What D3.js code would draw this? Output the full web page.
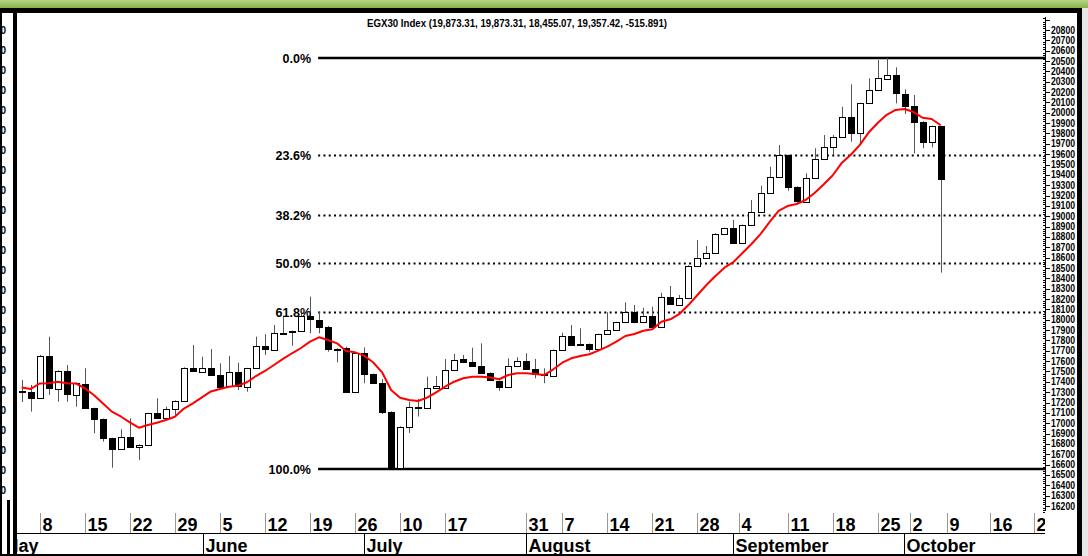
<!DOCTYPE html>
<html><head><meta charset="utf-8">
<script src="https://cdn.jsdelivr.net/npm/d3@7/dist/d3.min.js"></script>
<style>body{margin:0;background:#fff;overflow:hidden}svg{display:block}</style>
</head><body>
<svg id="c" width="1088" height="556"></svg>
<script>
// ---- data ----
const opens  = [17312,17305,17241,17653,17331,17505,17273,17379,17144,17038,16855,16751,16870,16768,16790,17096,17048,17138,17215,17537,17498,17537,17466,17360,17492,17353,17531,17749,17708,17875,17879,17891,18036,17998,17933,17722,17730,17299,17676,17473,17386,17112,16565,16967,17160,17150,17340,17345,17514,17616,17589,17553,17488,17408,17347,17556,17601,17521,17476,17456,17703,17843,17766,17766,17714,17860,17901,17975,18072,17975,18036,17927,18223,18142,18213,18522,18594,18642,18826,18884,18739,18915,19044,19228,19382,19592,19285,19141,19367,19550,19672,19763,19962,19801,20091,20220,20326,20365,20181,20065,19914,19714,19873.31];
const highs  = [17418,17370,17660,17836,17510,17563,17395,17531,17150,17045,16860,16941,17048,16795,17100,17241,17160,17220,17540,17756,17643,17717,17579,17650,17585,17535,17836,17859,17949,18039,17895,18062,18223,18078,17940,17725,17740,17685,17732,17480,17427,17115,16970,17208,17234,17450,17457,17620,17669,17659,17730,17772,17492,17412,17627,17637,17676,17621,17531,17712,17875,17949,17917,17770,17866,18072,17980,18169,18142,18116,18126,18261,18326,18239,18527,18771,18713,18836,18890,18964,18920,19157,19295,19479,19688,19596,19290,19415,19657,19785,19785,20058,20275,20096,20333,20510,20529,20439,20227,20172,19918,19876,19873.31];
const lows   = [17205,17112,17235,17273,17208,17208,17160,17140,16903,16822,16570,16745,16765,16645,16785,17050,17045,17080,17212,17500,17495,17460,17350,17355,17321,17305,17528,17659,17705,17858,17749,17888,17869,17869,17691,17589,17295,17295,17386,17385,17089,16558,16558,16906,17065,17145,17338,17340,17510,17590,17550,17485,17412,17314,17343,17550,17522,17434,17386,17450,17700,17750,17750,17691,17710,17855,17897,17970,17966,17970,17928,17922,18145,18138,18210,18518,18590,18638,18820,18740,18735,18910,19040,19224,19378,19247,19125,19137,19363,19546,19592,19760,19720,19688,20087,20215,20320,20091,19988,19608,19657,19666,18455.07];
const closes = [17310,17247,17653,17338,17505,17280,17392,17144,17041,16855,16751,16870,16768,16793,17096,17054,17138,17215,17537,17505,17537,17466,17353,17492,17360,17531,17749,17717,17869,17862,17891,18039,18007,17933,17717,17712,17299,17676,17473,17389,17112,16565,16967,17160,17150,17345,17358,17514,17611,17595,17556,17488,17418,17353,17556,17601,17527,17476,17466,17708,17846,17756,17756,17714,17862,17901,17975,18072,17981,18039,17933,18223,18149,18213,18522,18594,18642,18826,18884,18744,18915,19044,19228,19382,19592,19285,19150,19367,19550,19672,19763,19962,19807,20091,20220,20333,20365,20188,20068,19914,19720,19873.31,19357.42];
const movingAvg = [17345,17331,17384,17386,17401,17386,17384,17338,17273,17193,17112,17065,17009,16957,16983,17005,17031,17063,17142,17191,17249,17307,17331,17353,17363,17396,17456,17505,17563,17621,17676,17727,17788,17830,17804,17772,17698,17685,17653,17589,17492,17321,17247,17225,17215,17247,17299,17353,17401,17434,17450,17450,17442,17425,17466,17483,17483,17476,17466,17521,17585,17627,17650,17666,17701,17740,17788,17843,17862,17894,17908,17981,18004,18056,18142,18239,18336,18423,18503,18558,18645,18732,18828,18944,19051,19099,19118,19157,19225,19307,19394,19514,19592,19688,19809,19901,19980,20027,20036,20007,19952,19940,19880];
const weekTickPos    = [3,8,13,18,23,28,33,38,43,48,57,61,66,71,76,80.65,86,91,96,99.6,103.7,108.5,113.4];
const weekTickLabels = ["8","15","22","29","5","12","19","26","10","17","31","7","14","21","28","4","11","18","25","2","9","16","23"];
const monthSepPos    = [-1.25,21.07,39.0,57.0,80.0,98.9];
const monthLabels    = ["May","June","July","August","September","October"];
const priceTicks     = d3.range(16200, 20801, 100);
const fibHigh = 20529, fibLow = 16558;
const fibLevels = [0, 23.6, 38.2, 50.0, 61.8, 100.0];
const fibLabels = ["0.0%","23.6%","38.2%","50.0%","61.8%","100.0%"];
const titleText = "EGX30 Index (19,873.31, 19,873.31, 18,455.07, 19,357.42, -515.891)";

// ---- drawing ----
const W = 1088, H = 556;
const svg = d3.select("#c");
const plotL = 17, plotR = 1045, plotT = 13, plotB = 511;
const x = d3.scaleLinear().domain([1, 103]).range([21.7, 940.7]);
const y = d3.scaleLinear().domain([16200, 20800]).range([506, 30]);
const narrow = "'Liberation Sans Narrow','Arial Narrow','Liberation Sans',Arial,sans-serif";
const sans = "'Liberation Sans',Arial,sans-serif";

const defs = svg.append("defs");
defs.append("clipPath").attr("id","plot").append("rect")
  .attr("x",plotL).attr("y",plotT).attr("width",plotR-plotL).attr("height",plotB-plotT);
defs.append("clipPath").attr("id","dates").append("rect")
  .attr("x",plotL).attr("y",plotB).attr("width",plotR-plotL).attr("height",H-plotB);
const gr = defs.append("linearGradient").attr("id","gb").attr("x1",0).attr("x2",0).attr("y1",0).attr("y2",1);
gr.append("stop").attr("offset","0%").attr("stop-color","#b6d684");
gr.append("stop").attr("offset","100%").attr("stop-color","#86b347");

svg.append("rect").attr("width",W).attr("height",H).attr("fill","#fff");

// title
svg.append("text").attr("x",517).attr("y",27).attr("text-anchor","middle")
  .attr("font-family",narrow).attr("font-weight","bold").attr("font-size",11)
  .attr("textLength",300).attr("lengthAdjust","spacingAndGlyphs").text(titleText);

const plot = svg.append("g").attr("clip-path","url(#plot)");

// fibonacci levels
const fibVal = p => fibHigh - (fibHigh - fibLow) * p / 100;
const fibStart = x(33.9);
fibLevels.forEach((p, k) => {
  const yy = Math.round(y(fibVal(p)));
  const solid = (p === 0 || p === 100);
  plot.append("line").attr("x1",fibStart).attr("x2",plotR).attr("y1",solid?yy:yy+0.5).attr("y2",solid?yy:yy+0.5)
    .attr("stroke","#000").attr("stroke-width",solid?2.6:2)
    .attr("stroke-dasharray",solid?null:"2,3.3");
  svg.append("text").attr("x",311).attr("y",yy+4.5).attr("text-anchor","end")
    .attr("font-family",sans).attr("font-weight","bold").attr("font-size",12.5).text(fibLabels[k]);
});

// candles
const candles = opens.map((o,k)=>({i:k+1,o,h:highs[k],l:lows[k],c:closes[k]}));
const cg = plot.append("g");
candles.forEach(d => {
  const cx = Math.round(x(d.i));
  const up = d.c >= d.o;
  cg.append("line").attr("x1",cx+0.5).attr("x2",cx+0.5)
    .attr("y1",y(d.h)).attr("y2",y(d.l)).attr("stroke","#555").attr("stroke-width",1);
  const t = Math.round(y(Math.max(d.o,d.c))) + 0.5;
  const b = Math.round(y(Math.min(d.o,d.c))) + 0.5;
  cg.append("rect").attr("x",cx-2.5).attr("width",6)
    .attr("y",t).attr("height",Math.max(1,b-t))
    .attr("fill",up?"#fff":"#000").attr("stroke","#000").attr("stroke-width",1);
});

// moving average
plot.append("path").datum(movingAvg)
  .attr("d", d3.line().x((v,k)=>x(k+1)).y(v=>y(v)))
  .attr("fill","none").attr("stroke","#ff0000").attr("stroke-width",2).attr("stroke-linejoin","round");

// right price axis
const ax = svg.append("g");
ax.append("line").attr("x1",plotR+0.5).attr("x2",plotR+0.5).attr("y1",17).attr("y2",511).attr("stroke","#000");
d3.range(16140, 20921, 20).forEach(v => {
  const yy = Math.round(y(v)) + 0.5;
  if (v % 100 === 0) {
    ax.append("line").attr("x1",plotR).attr("x2",plotR+5).attr("y1",yy).attr("y2",yy).attr("stroke","#000");
  } else {
    ax.append("line").attr("x1",plotR-2).attr("x2",plotR).attr("y1",yy).attr("y2",yy).attr("stroke","#000");
  }
});
priceTicks.forEach(v => {
  ax.append("text").attr("x",1051).attr("y",y(v)+3.5)
    .attr("font-family",narrow).attr("font-weight","bold").attr("font-size",10)
    .attr("textLength",24).attr("lengthAdjust","spacingAndGlyphs").text(v);
});

// date axis
const dg = svg.append("g").attr("clip-path","url(#dates)");
dg.append("line").attr("x1",plotL).attr("x2",plotR).attr("y1",533.5).attr("y2",533.5).attr("stroke","#000");
weekTickPos.forEach((p,k) => {
  const xx = Math.round(x(p)) + 0.5;
  dg.append("line").attr("x1",xx).attr("x2",xx).attr("y1",513).attr("y2",533).attr("stroke","#999");
  dg.append("text").attr("x",xx+2).attr("y",531).attr("font-family",sans).attr("font-weight","bold")
    .attr("font-size",18).text(weekTickLabels[k]);
});
monthSepPos.forEach((p,k) => {
  const xx = Math.round(x(p)) + 0.5;
  dg.append("line").attr("x1",xx).attr("x2",xx).attr("y1",533).attr("y2",H).attr("stroke","#000");
  dg.append("text").attr("x",xx+2).attr("y",552).attr("font-family",sans).attr("font-weight","bold")
    .attr("font-size",18).text(monthLabels[k]);
});

// frame
const fr = svg.append("g");
fr.append("rect").attr("x",0).attr("y",0).attr("width",W).attr("height",8).attr("fill","url(#gb)");
fr.append("rect").attr("x",0).attr("y",8).attr("width",1082).attr("height",5).attr("fill","#000");
fr.append("rect").attr("x",13).attr("y",8).attr("width",4).attr("height",H-8).attr("fill","#000");
fr.append("rect").attr("x",7).attr("y",500).attr("width",3).attr("height",H-500).attr("fill","#000");
fr.append("rect").attr("x",0).attr("y",8).attr("width",2).attr("height",H-8).attr("fill","#000");
fr.append("rect").attr("x",1077).attr("y",8).attr("width",5).attr("height",H-8).attr("fill","#000");
fr.append("rect").attr("x",1082).attr("y",8).attr("width",6).attr("height",H-8).attr("fill","#e6e6e6");
fr.append("rect").attr("x",0).attr("y",H-2).attr("width",1082).attr("height",2).attr("fill","#000");
d3.range(0, 24).forEach(k => {
  fr.append("text").attr("x",6).attr("y",34 + k*20).attr("text-anchor","end")
    .attr("font-family",narrow).attr("font-weight","bold").attr("font-size",10).text("0");
});
</script>
</body></html>
